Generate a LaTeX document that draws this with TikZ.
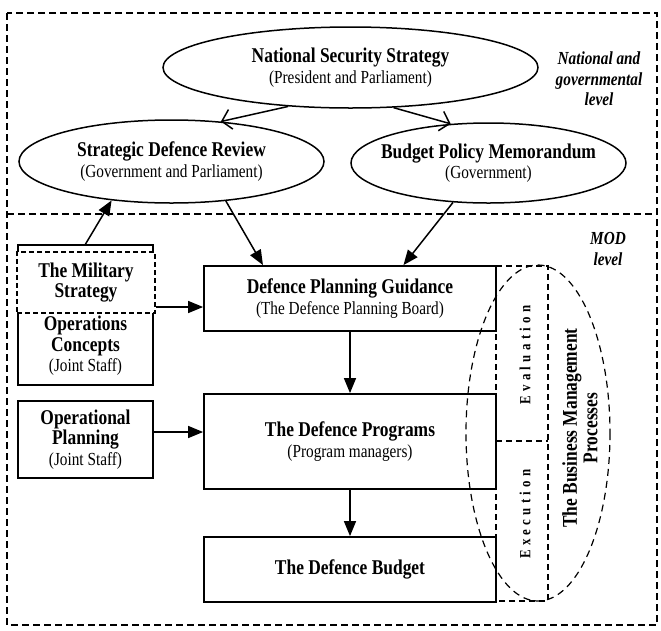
\documentclass[tikz,border=0pt]{standalone}
\usepackage{fontspec}
\setmainfont{Liberation Serif}[FakeStretch=0.83]
\usetikzlibrary{arrows.meta,shapes.geometric}
\newcommand{\hdr}[1]{{\fontsize{21}{20.5}\selectfont\bfseries #1}}
\newcommand{\subl}[1]{{\fontsize{18.4}{20.5}\selectfont #1}}
\newcommand{\lgap}{\kern4.3pt }
\begin{document}
\begin{tikzpicture}[x=1pt,y=-1pt,
  every node/.append style={font=\fontsize{18.4}{20.5}\selectfont},
  solidbox/.style={draw, line width=1.8pt, rectangle, inner sep=0pt, align=center},
  oval/.style={draw, line width=1.5pt, ellipse, inner ysep=-4pt, inner xsep=-40pt, align=center},
  frameline/.style={line width=1.3pt, dash pattern=on 7pt off 4pt},
  coldash/.style={line width=1.3pt, dash pattern=on 6pt off 4pt},
  elldash/.style={line width=1.2pt, dash pattern=on 7pt off 5pt},
  fillarrow/.style={line width=1.5pt, -{Triangle[length=15pt,width=12pt]}},
  openarrow/.style={line width=1.5pt, -{Straight Barb[length=9pt,width=20pt]}},
  lbl/.style={align=center, inner sep=0pt},
  lvl/.style={align=center, inner sep=0pt, font=\fontsize{18.4}{20.5}\selectfont\bfseries\itshape},
  spc/.style={inner sep=0pt, rotate=90, font=\fontsize{15.5}{16}\selectfont\bfseries},
]
\useasboundingbox (0,0) rectangle (661,630);
% frame and level divider
\draw[frameline] (7,13) rectangle (657,625);
\draw[frameline] (7,214) -- (657,214);

% ellipses
\node[oval, minimum width=375, minimum height=81] (nss) at (350.5,67.5)
  {\hdr{National Security Strategy}\\\subl{(President and Parliament)}};
\node[oval, minimum width=305, minimum height=83] (sdr) at (171.5,161.5)
  {\hdr{Strategic Defence Review}\\\subl{(Government and Parliament)}};
\node[oval, minimum width=275, minimum height=80] (bpm) at (488.5,163)
  {\hdr{Budget Policy Memorandum}\\\subl{(Government)}};

% level labels
\node[lvl] (natlvl) at (599,79) {National and\\governmental\\level};
\node[lvl] (modlvl) at (608,249) {MOD\\level};

% business management column
\draw[coldash] (496,266) -- (548,266) -- (548,601) -- (496,601) -- cycle;
\draw[coldash] (496,441) -- (548,441);
\draw[elldash] (538,433) ellipse [x radius=72, y radius=168];
\node[spc] (evaltxt) at (525,355) {E\lgap v\lgap a\lgap l\lgap u\lgap a\lgap t\lgap i\lgap o\lgap n};
\node[spc] (exectxt) at (525,514) {E\lgap x\lgap e\lgap c\lgap u\lgap t\lgap i\lgap o\lgap n};
\node[lbl, rotate=90] (bmp) at (580,428) {\hdr{The Business Management}\\\hdr{Processes}};

% left boxes
\node[solidbox, minimum width=135, minimum height=140] (mil) at (85.5,315) {};
\node[draw, line width=1.3pt, dash pattern=on 5pt off 3pt, fill=white, minimum width=138, minimum height=61, inner sep=0pt, align=center] (milstrat) at (86,282.5)
  {\hdr{The Military}\\\hdr{Strategy}};
\node[lbl] (opc) at (85.5,346) {\hdr{Operations}\\\hdr{Concepts}\\\subl{(Joint Staff)}};
\node[solidbox, minimum width=135, minimum height=77] (op) at (85.5,439.5)
  {\hdr{Operational}\\\hdr{Planning}\\\subl{(Joint Staff)}};

% main boxes
\node[solidbox, minimum width=292, minimum height=65] (dpg) at (350,298.5)
  {\hdr{Defence Planning Guidance}\\\subl{(The Defence Planning Board)}};
\node[solidbox, minimum width=292, minimum height=95] (dp) at (350,441.5)
  {\hdr{The Defence Programs}\\\subl{(Program managers)}};
\node[solidbox, minimum width=292, minimum height=65] (db) at (350,569.5)
  {\hdr{The Defence Budget}};

% connectors
\coordinate (ya) at (0,307);
\coordinate (yb) at (0,432);
\draw[openarrow] (nss.212) -- (sdr.39);
\draw[openarrow] (nss.317) -- (bpm.134);
\draw[fillarrow] (sdr.324) -- (dpg.159);
\draw[fillarrow] (bpm.228) -- (dpg.32);
\draw[fillarrow] (mil.north) -- (sdr.213);
\draw[fillarrow] (milstrat.east |- ya) -- (dpg.west |- ya);
\draw[fillarrow] (op.east |- yb) -- (dp.west |- yb);
\draw[fillarrow] (dpg.south) -- (dp.north);
\draw[fillarrow] (dp.south) -- (db.north);
\end{tikzpicture}
\end{document}
